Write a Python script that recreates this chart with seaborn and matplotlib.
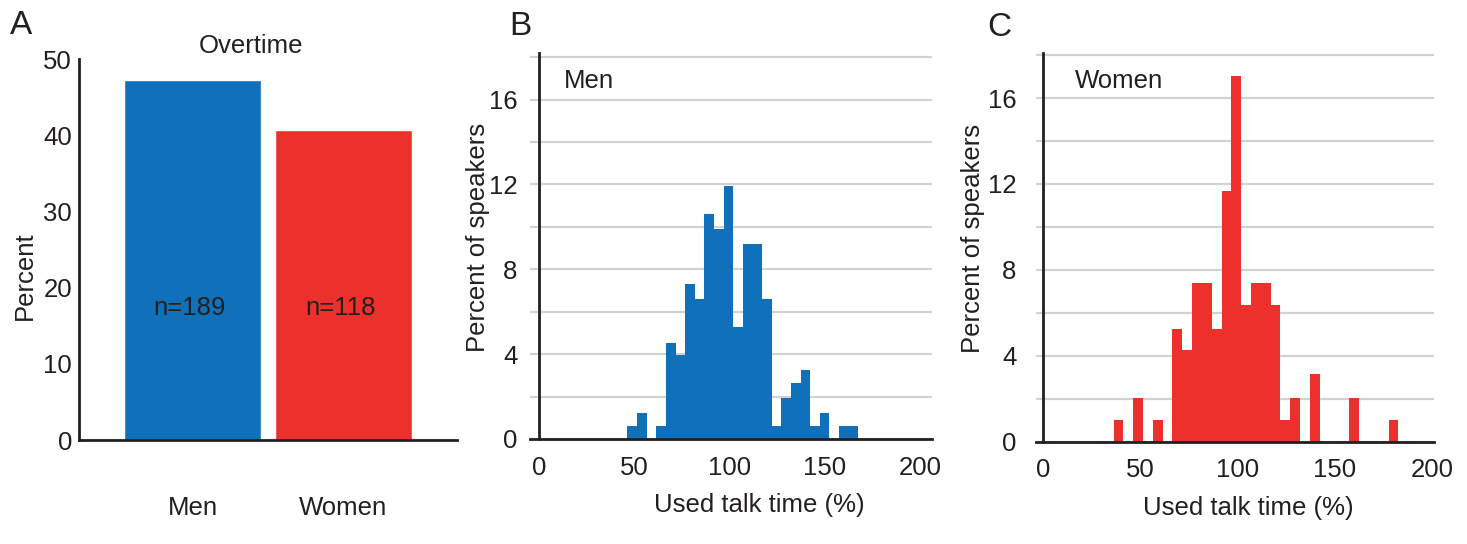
import numpy as np
import pandas as pd
import matplotlib
matplotlib.use("Agg")
import matplotlib.pyplot as plt
import seaborn as sns

# ---------------- data ----------------
groups = ["Men", "Women"]
overtime_pct = [47.2, 40.7]
n_labels = ["n=189", "n=118"]

# histogram bins (used talk time, %)
bin_start = 36.3
bin_width = 5.05
n_bins = 29

men_pct = [0, 0, 0.63, 1.21, 0, 0.60, 4.55, 3.97, 7.29, 6.58, 10.63, 9.92,
           11.95, 5.28, 9.21, 9.21, 6.58, 0.60, 1.92, 2.65, 3.23, 0.60, 1.21,
           0, 0.60, 0.60, 0, 0, 0]
women_pct = [1.01, 0, 2.02, 0, 1.01, 0, 5.25, 4.25, 7.38, 7.38, 5.25, 11.69,
             17.05, 6.37, 7.38, 7.38, 6.37, 1.01, 2.02, 0, 3.14, 0, 0, 0,
             2.02, 0, 0, 0, 1.01]

hist_xticks = [0, 50, 100, 150, 200]
hist_yticks = [0, 4, 8, 12, 16]
hist_minor = [2, 6, 10, 14, 18]
bar_yticks = [0, 10, 20, 30, 40, 50]

BLUE = "#1071BA"
RED = "#EE302D"
INK = "#231F20"
GRID = "#D2D2D2"

sns.set_theme(style="white")
plt.rcParams["font.family"] = ["Liberation Sans", "DejaVu Sans"]
plt.rcParams["text.color"] = INK
plt.rcParams["axes.labelcolor"] = INK
plt.rcParams["xtick.color"] = INK
plt.rcParams["ytick.color"] = INK
plt.rcParams["axes.edgecolor"] = INK

FS = 18.5
W, H = 1467, 544
fig = plt.figure(figsize=(W / 100, H / 100), dpi=100)


def px_axes(left, right, top, bottom):
    return fig.add_axes([left / W, 1 - bottom / H, (right - left) / W, (bottom - top) / H])


# ---------------- panel A ----------------
axA = px_axes(79, 457, 59, 440)
dfA = pd.DataFrame({"group": groups, "pct": overtime_pct})
sns.barplot(data=dfA, x="group", y="pct", hue="group", palette=[BLUE, RED],
            width=0.907, saturation=1, legend=False, ax=axA)
axA.set_xlim(-0.752, 1.752)
axA.set_ylim(0, 50)
axA.set_yticks(bar_yticks)
axA.spines["top"].set_visible(False)
axA.spines["right"].set_visible(False)
for s in ("left", "bottom"):
    axA.spines[s].set_linewidth(2)
axA.tick_params(axis="y", direction="in", length=7, width=2, labelsize=FS, pad=5)
axA.tick_params(axis="x", which="major", length=0, labelsize=FS, pad=40)
axA.set_xticks([1.752], minor=True)
axA.tick_params(axis="x", which="minor", direction="in", length=7, width=2)
axA.set_xlabel("")
axA.set_ylabel("Percent", fontsize=FS)
axA.yaxis.set_label_coords(-0.111, 0.43)
for i, t in enumerate(n_labels):
    axA.text(i - 0.02, 16.4, t, ha="center", va="baseline", fontsize=FS, color=INK)
fig.text(251 / W, 1 - 53 / H, "Overtime", ha="center", va="baseline", fontsize=FS)


# ---------------- histogram panels ----------------
edges = (bin_start + bin_width * np.arange(n_bins + 1)).tolist()
centers = [(a + b) / 2 for a, b in zip(edges[:-1], edges[1:])]


def hist_panel(ax, vals, color, label, xlim, ytop, ypad, ylab_x, lab_x):
    df = pd.DataFrame({"talk": centers, "pct": np.asarray(vals, dtype=float)})
    sns.histplot(data=df, x="talk", weights="pct", bins=edges, color=color, alpha=1,
                 linewidth=0, ax=ax)
    ax.set_xlim(*xlim)
    ax.set_ylim(0, ytop)
    ax.set_xticks(hist_xticks)
    ax.set_yticks(hist_yticks)
    ax.set_yticks(hist_minor, minor=True)
    ax.set_axisbelow(True)
    ax.grid(False)
    ax.yaxis.grid(True, which="both", color=GRID, linewidth=1.6)
    ax.spines["top"].set_visible(False)
    ax.spines["right"].set_visible(False)
    ax.spines["left"].set_position(("data", 0))
    for s in ("left", "bottom"):
        ax.spines[s].set_linewidth(2)
        ax.spines[s].set_zorder(5)
    ax.tick_params(axis="y", which="both", length=0, labelsize=FS, pad=ypad)
    ax.tick_params(axis="x", direction="out", length=7, width=2, labelsize=FS, pad=5)
    ax.set_xlabel("Used talk time (%)", fontsize=FS)
    ax.set_ylabel("Percent of speakers", fontsize=FS)
    ax.yaxis.set_label_coords(ylab_x, 0.523)
    ax.text(lab_x, 0.909, label, transform=ax.transAxes,
            ha="left", va="baseline", fontsize=FS)


axB = px_axes(529.5, 931.5, 53, 439)
hist_panel(axB, men_pct, BLUE, "Men", (-5, 206), 18.2, 15.5, -0.098, 0.085)
axB.xaxis.set_label_coords(0.572, -0.14)

axC = px_axes(1036, 1434, 53, 441.7)
hist_panel(axC, women_pct, RED, "Women", (-3.6, 201.1), 18.1, 19, -0.127, 0.098)
axC.xaxis.set_label_coords(0.533, -0.14)

# panel letters
fig.text(10 / W, 1 - 34 / H, "A", fontsize=24, va="baseline", ha="left")
fig.text(509 / W, 1 - 35 / H, "B", fontsize=24, va="baseline", ha="left")
fig.text(987 / W, 1 - 36 / H, "C", fontsize=24, va="baseline", ha="left")

fig.savefig("out.png", dpi=100)
